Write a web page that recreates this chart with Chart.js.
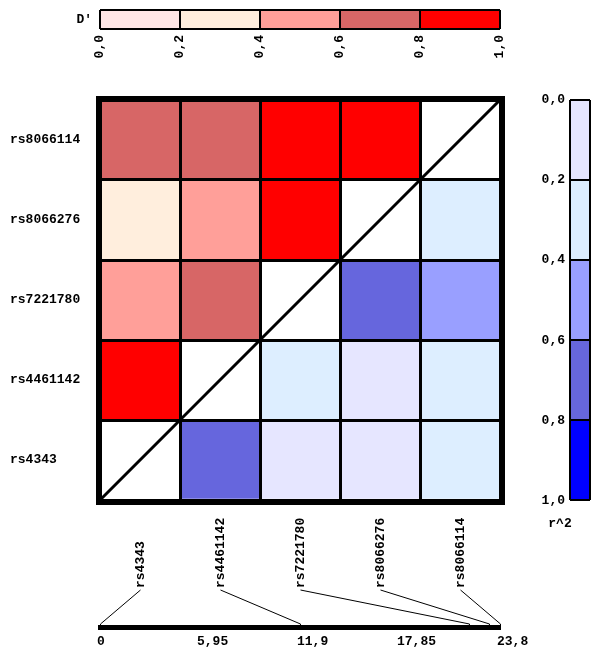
<!DOCTYPE html>
<html>
<head>
<meta charset="utf-8">
<title>LD plot</title>
<script src="https://cdn.jsdelivr.net/npm/chart.js@4.4.0/dist/chart.umd.min.js"></script>
<style>
  body { margin: 0; background: #fff; }
  #page { position: relative; width: 600px; height: 660px; overflow: hidden; }
  canvas { position: absolute; }
</style>
</head>
<body>
<div id="page">
  <canvas id="legendD" width="600" height="70" style="left:0;top:0"></canvas>
  <canvas id="matrix" width="600" height="420" style="left:0;top:90px"></canvas>
  <canvas id="legendR" width="70" height="450" style="left:530px;top:90px"></canvas>
  <canvas id="map" width="600" height="150" style="left:0;top:510px"></canvas>
</div>
<script>
// markers in map order
const snps = ['rs4343', 'rs4461142', 'rs7221780', 'rs8066276', 'rs8066114'];
// physical positions (kb from first marker)
const positions = [0, 11.9, 21.97, 23.16, 23.8];
const mapTicks = [0, 5.95, 11.9, 17.85, 23.8];

// marker pairs (i < j) and their LD values
const pairs = [[0, 1], [0, 2], [0, 3], [0, 4], [1, 2], [1, 3], [1, 4], [2, 3], [2, 4], [3, 4]];
const dPrime = [0.93, 0.52, 0.31, 0.66, 0.71, 0.48, 0.74, 1.0, 0.95, 1.0];
const rSquared = [0.68, 0.08, 0.12, 0.26, 0.24, 0.15, 0.31, 0.72, 0.47, 0.36];

// colour bins
const binEdges = [0, 0.2, 0.4, 0.6, 0.8, 1.0];
const dColors = ['#ffe6e6', '#ffeedd', '#ff9f99', '#d76666', '#ff0000'];
const r2Colors = ['#e6e6ff', '#ddeeff', '#999fff', '#6666dd', '#0000ff'];

Chart.defaults.font = { family: '"Liberation Mono", "Courier New", monospace', size: 13, weight: 'bold' };
Chart.defaults.color = '#000';
Chart.defaults.animation = false;
Chart.defaults.plugins.legend.display = false;
Chart.defaults.plugins.tooltip.enabled = false;

const binOf = v => Math.min(binEdges.length - 2, Math.floor(v / 0.2 + 1e-9));
const comma = v => String(v).replace('.', ',');
const oneDec = v => v.toFixed(1).replace('.', ',');
const black = { color: '#000', drawTicks: false, z: 1 };
// fixed axis sizes, no extra edge padding
const fixW = w => s => { s.width = w; s.paddingTop = s.paddingBottom = 0; };
const fixH = h => s => { s.height = h; s.paddingLeft = s.paddingRight = 0; };

// ---- D' legend (top)
new Chart(document.getElementById('legendD'), {
  type: 'bar',
  data: {
    labels: ["D'"],
    datasets: dColors.map((c, k) => ({
      data: [[binEdges[k], binEdges[k + 1]]],
      backgroundColor: c, grouped: false, barPercentage: 1, categoryPercentage: 1
    }))
  },
  options: {
    indexAxis: 'y',
    responsive: false,
    layout: { padding: { left: 0, right: 100, top: 10, bottom: 0 } },
    scales: {
      x: {
        type: 'linear', min: 0, max: 1,
        afterBuildTicks: s => { s.ticks = binEdges.map(v => ({ value: v })); },
        afterFit: fixH(41),
        ticks: { autoSkip: false, minRotation: 90, maxRotation: 90, padding: 6, callback: v => oneDec(v) },
        grid: { ...black, lineWidth: 2 },
        border: { display: false }
      },
      y: {
        afterFit: fixW(100),
        ticks: { padding: 8 },
        grid: { ...black, lineWidth: 2, offset: true },
        border: { display: false }
      }
    }
  }
});

// ---- LD matrix
const dCells = pairs.map(([i, j]) => ({ x: i + 0.5, y: [j, j + 1] }));
const rCells = pairs.map(([i, j]) => ({ x: j + 0.5, y: [i, i + 1] }));
const n = snps.length;

const frame = {
  id: 'frame',
  afterDraw(chart) {
    const { ctx, chartArea: a } = chart;
    ctx.save();
    ctx.lineWidth = 6;
    ctx.strokeStyle = '#000';
    ctx.strokeRect(a.left - 1, a.top - 1, a.width + 3, a.height + 3);
    ctx.restore();
  }
};

new Chart(document.getElementById('matrix'), {
  type: 'bar',
  data: {
    datasets: [
      { type: 'line', data: [{ x: 0, y: 0 }, { x: n, y: n }], borderColor: '#000', borderWidth: 3, pointRadius: 0 },
      { data: dCells, backgroundColor: dPrime.map(v => dColors[binOf(v)]), grouped: false, barPercentage: 1, categoryPercentage: 1 },
      { data: rCells, backgroundColor: rSquared.map(v => r2Colors[binOf(v)]), grouped: false, barPercentage: 1, categoryPercentage: 1 }
    ]
  },
  options: {
    responsive: false,
    layout: { padding: { left: 10, right: 100, top: 10, bottom: 10 } },
    scales: {
      x: {
        type: 'linear', min: 0, max: n, offset: false,
        afterFit: fixH(0),
        ticks: { display: false, stepSize: 1 },
        grid: { ...black, lineWidth: 3, offset: false },
        border: { display: false }
      },
      y: {
        type: 'linear', min: 0, max: n,
        afterFit: fixW(0),
        ticks: { display: false, stepSize: 1 },
        grid: { ...black, lineWidth: 3 },
        border: { display: false }
      },
      yl: {
        type: 'linear', position: 'left', min: 0, max: n,
        afterBuildTicks: s => { s.ticks = snps.map((_, i) => ({ value: i + 0.5 })); },
        afterFit: fixW(90),
        ticks: { crossAlign: 'far', callback: v => snps[Math.floor(v)] },
        grid: { display: false, drawTicks: false },
        border: { display: false }
      }
    }
  },
  plugins: [frame]
});

// ---- r^2 legend (right)
new Chart(document.getElementById('legendR'), {
  type: 'bar',
  data: {
    labels: [''],
    datasets: r2Colors.map((c, k) => ({
      data: [[binEdges[k], binEdges[k + 1]]],
      backgroundColor: c, grouped: false, barPercentage: 1, categoryPercentage: 1
    }))
  },
  options: {
    responsive: false,
    layout: { padding: { left: 0, right: 10, top: 10, bottom: 0 } },
    plugins: {
      title: { display: true, text: 'r^2', position: 'bottom', padding: { top: 16, bottom: 8 } }
    },
    scales: {
      x: {
        afterFit: fixH(0),
        ticks: { display: false },
        grid: { ...black, lineWidth: 2, offset: true },
        border: { display: false }
      },
      y: {
        type: 'linear', min: 0, max: 1, reverse: true,
        afterBuildTicks: s => { s.ticks = binEdges.map(v => ({ value: v })); },
        afterFit: fixW(40),
        ticks: { padding: 5, callback: v => oneDec(v) },
        grid: { ...black, lineWidth: 2 },
        border: { display: false }
      }
    }
  }
});

// ---- physical map (bottom)
const connectors = {
  id: 'connectors',
  afterDatasetsDraw(chart) {
    const { ctx, chartArea: a, scales: { x, xc } } = chart;
    ctx.save();
    ctx.strokeStyle = '#000';
    ctx.lineWidth = 1;
    positions.forEach((p, i) => {
      const px = Math.round(x.getPixelForValue(p)) + 0.5;
      ctx.beginPath();
      ctx.moveTo(Math.round(xc.getPixelForValue(i + 0.5)) + 0.5, a.top);
      ctx.lineTo(px, a.bottom - 3);
      ctx.lineTo(px, a.bottom);
      ctx.stroke();
    });
    ctx.restore();
  }
};

new Chart(document.getElementById('map'), {
  type: 'line',
  data: { datasets: [] },
  options: {
    responsive: false,
    layout: { padding: { left: 100, right: 100, top: 0, bottom: 0 } },
    scales: {
      xc: {
        type: 'linear', position: 'top', min: 0, max: n,
        afterBuildTicks: s => { s.ticks = snps.map((_, i) => ({ value: i + 0.5 })); },
        afterFit: fixH(80),
        ticks: { autoSkip: false, minRotation: 90, maxRotation: 90, padding: 2, labelOffset: 16, callback: v => snps[Math.floor(v)] },
        grid: { display: false, drawTicks: false },
        border: { display: false }
      },
      x: {
        type: 'linear', position: 'bottom', min: 0, max: 23.8,
        afterBuildTicks: s => { s.ticks = mapTicks.map(v => ({ value: v })); },
        afterFit: fixH(33),
        ticks: { autoSkip: false, maxRotation: 0, padding: 7, align: 'start', labelOffset: -3, callback: v => comma(v) },
        grid: { display: false, drawTicks: false },
        border: { display: true, color: '#000', width: 5 }
      },
      y: { display: false, min: 0, max: 1 }
    }
  },
  plugins: [connectors]
});
</script>
</body>
</html>
